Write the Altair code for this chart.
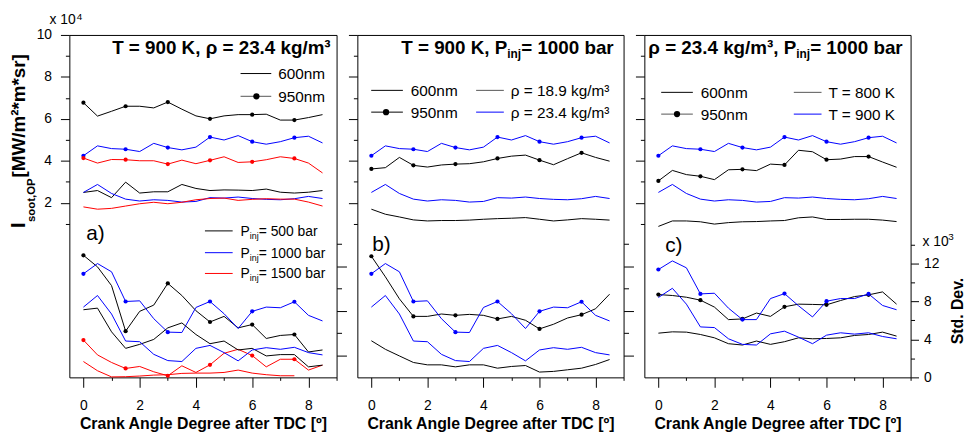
import altair as alt
import pandas as pd

FONT = "Liberation Sans"

# Crank angle positions (deg after TDC)
X = [0.0, 0.5, 1.0, 1.5, 2.0, 2.5, 3.0, 3.5, 4.0, 4.5, 5.0, 5.5, 6.0, 6.5, 7.0, 7.5, 8.0, 8.5]

# ---- Mean soot intensity (x 10^4) ----
BLUE_I950 = [4.24, 4.71, 4.58, 4.55, 4.44, 4.83, 4.63, 4.52, 4.65, 5.13, 4.99, 5.20, 4.91, 4.79, 4.91, 5.10, 5.17, 4.85]
BLUE_I600 = [2.49, 2.87, 2.44, 2.17, 2.08, 2.14, 2.11, 2.03, 2.06, 2.24, 2.22, 2.27, 2.20, 2.16, 2.14, 2.19, 2.30, 2.20]
A_I950_500 = [6.77, 6.13, 6.36, 6.60, 6.60, 6.52, 6.80, 6.46, 6.14, 6.00, 6.14, 6.20, 6.20, 6.22, 5.94, 5.94, 6.06, 6.20]
A_I950_1500 = [4.13, 3.89, 4.06, 4.05, 4.00, 4.00, 3.84, 4.03, 3.86, 4.02, 4.19, 3.92, 3.95, 4.05, 4.19, 4.11, 3.89, 3.42]
A_I600_500 = [2.49, 2.58, 2.24, 2.98, 2.46, 2.52, 2.52, 2.87, 2.68, 2.58, 2.61, 2.60, 2.58, 2.65, 2.50, 2.46, 2.50, 2.58]
A_I600_1500 = [1.80, 1.69, 1.73, 1.84, 1.95, 2.02, 1.95, 2.02, 2.14, 2.20, 2.22, 2.11, 2.16, 2.19, 2.17, 2.17, 2.03, 1.84]
B_I950_189 = [3.61, 3.67, 4.16, 3.78, 3.70, 3.80, 3.84, 3.86, 3.95, 4.11, 4.22, 4.27, 4.03, 3.81, 4.10, 4.38, 4.16, 3.98]
B_I600_189 = [1.69, 1.45, 1.32, 1.18, 1.13, 1.15, 1.15, 1.17, 1.21, 1.24, 1.26, 1.29, 1.21, 1.13, 1.18, 1.24, 1.21, 1.17]
C_I950_800 = [3.04, 3.54, 3.34, 3.26, 3.10, 3.57, 3.59, 3.53, 3.84, 3.80, 4.50, 4.43, 4.05, 4.08, 4.20, 4.20, 3.94, 3.69]
C_I600_800 = [0.87, 1.13, 1.13, 1.09, 0.98, 1.05, 1.09, 1.10, 1.13, 1.15, 1.28, 1.32, 1.20, 1.20, 1.21, 1.21, 1.17, 1.10]

# ---- Standard deviation (x 10^3) ----
AB_S950_BLUE = [10.92, 12.00, 11.13, 8.00, 8.07, 6.19, 4.77, 4.73, 7.37, 8.00, 6.71, 5.15, 6.96, 7.41, 7.34, 7.97, 6.54, 5.95]
AB_S600_BLUE = [7.41, 8.63, 6.68, 3.83, 3.76, 2.43, 1.77, 1.67, 3.06, 3.37, 2.61, 1.74, 2.89, 3.13, 2.96, 3.17, 2.61, 2.37]
A_S950_500 = [12.87, 11.65, 9.67, 4.87, 6.96, 7.62, 9.91, 8.63, 7.03, 5.84, 6.43, 5.22, 5.57, 4.10, 4.42, 4.52, 2.68, 2.89]
A_S950_1500 = [3.93, 2.37, 1.57, 0.94, 1.15, 0.59, 0.17, 1.22, 0.52, 1.32, 2.54, 2.96, 2.30, 1.11, 1.91, 1.91, 0.77, 1.29]
A_S600_500 = [7.13, 7.30, 4.80, 3.06, 3.48, 4.00, 5.22, 5.74, 4.52, 3.55, 3.83, 2.89, 3.06, 2.26, 2.40, 2.40, 1.11, 1.29]
A_S600_1500 = [1.67, 0.70, 0.05, 0.07, 0.14, 0.24, 0.28, 0.42, 0.45, 0.45, 0.52, 0.77, 0.45, 0.28, 0.17, 0.17, None, None]
B_S950_189 = [12.77, 10.60, 8.28, 6.43, 6.43, 6.68, 6.54, 6.64, 6.54, 6.16, 6.43, 6.02, 5.11, 5.60, 6.26, 6.61, 7.23, 8.77]
B_S600_189 = [3.86, 2.96, 2.26, 1.57, 1.32, 1.32, 1.11, 1.32, 1.32, 0.97, 1.15, 1.25, 0.56, 0.63, 0.80, 0.97, 1.36, 1.88]
C_S950_900 = [11.37, 12.28, 11.55, 8.80, 8.87, 7.30, 6.09, 6.09, 8.31, 8.83, 7.55, 6.37, 8.03, 8.31, 8.31, 8.80, 7.58, 7.13]
C_S600_900 = [8.42, 9.39, 7.72, 5.32, 5.25, 4.07, 3.48, 3.41, 4.59, 4.87, 4.24, 3.55, 4.45, 4.70, 4.56, 4.70, 4.31, 4.07]
C_S950_800 = [8.73, 8.63, 8.45, 8.14, 7.41, 6.09, 6.16, 6.78, 6.43, 7.44, 7.72, 7.69, 7.65, 8.10, 8.52, 8.70, 9.01, 7.72]
C_S600_800 = [4.66, 4.80, 4.77, 4.52, 4.17, 3.55, 3.41, 3.83, 3.48, 3.76, 4.17, 4.07, 4.10, 4.17, 4.42, 4.52, 4.77, 4.35]

BLACK, BLUE, RED = "#000000", "#0000ff", "#ff0000"

SERIES = [
    ("a", "int", "a1", BLACK, True, A_I950_500), ("a", "int", "a2", BLUE, True, BLUE_I950),
    ("a", "int", "a3", RED, True, A_I950_1500), ("a", "int", "a4", BLACK, False, A_I600_500),
    ("a", "int", "a5", BLUE, False, BLUE_I600), ("a", "int", "a6", RED, False, A_I600_1500),
    ("a", "std", "a7", BLACK, True, A_S950_500), ("a", "std", "a8", BLUE, True, AB_S950_BLUE),
    ("a", "std", "a9", RED, True, A_S950_1500), ("a", "std", "a10", BLACK, False, A_S600_500),
    ("a", "std", "a11", BLUE, False, AB_S600_BLUE), ("a", "std", "a12", RED, False, A_S600_1500),
    ("b", "int", "b1", BLACK, True, B_I950_189), ("b", "int", "b2", BLUE, True, BLUE_I950),
    ("b", "int", "b3", BLACK, False, B_I600_189), ("b", "int", "b4", BLUE, False, BLUE_I600),
    ("b", "std", "b5", BLACK, True, B_S950_189), ("b", "std", "b6", BLUE, True, AB_S950_BLUE),
    ("b", "std", "b7", BLACK, False, B_S600_189), ("b", "std", "b8", BLUE, False, AB_S600_BLUE),
    ("c", "int", "c1", BLACK, True, C_I950_800), ("c", "int", "c2", BLUE, True, BLUE_I950),
    ("c", "int", "c3", BLACK, False, C_I600_800), ("c", "int", "c4", BLUE, False, BLUE_I600),
    ("c", "std", "c5", BLACK, True, C_S950_800), ("c", "std", "c6", BLUE, True, C_S950_900),
    ("c", "std", "c7", BLACK, False, C_S600_800), ("c", "std", "c8", BLUE, False, C_S600_900),
]

rows = []
for p, k, sid, col, mk, vals in SERIES:
    for i, (xv, yv) in enumerate(zip(X, vals)):
        if yv is None:
            continue
        rows.append(dict(panel=p, kind=k, sid=sid, color=col, x=xv, y=yv, marked=bool(mk and i % 3 == 0)))
df = pd.DataFrame(rows)

H = 346

W_BOLD = {' ': 278, '=': 584, 'P': 667, 'b': 611, 'a': 556, 'r': 389, 'i': 278, 'n': 611, 'j': 278}
W_REG = {' ': 278, '=': 584, 'P': 667, 'b': 556, 'a': 556, 'r': 333, 'i': 222, 'n': 556, 'j': 222, 'x': 500}


def tw(s, size, bold=False):
    t = W_BOLD if bold else W_REG
    return sum(t.get(ch, 556) for ch in s) * size / 1000.0


def txt(x, y, s, size=14, bold=False, align="left", baseline="alphabetic", angle=0, color="black"):
    kw = dict(align=align, baseline=baseline, fontSize=size, font=FONT,
              fontWeight="bold" if bold else "normal", color=color)
    if angle:
        kw["angle"] = angle
    return alt.Chart(pd.DataFrame({"t": [s]})).mark_text(**kw).encode(
        x=alt.value(x), y=alt.value(y), text="t:N")


def seg(x1, x2, y, color):
    return alt.Chart(pd.DataFrame({"k": [0]})).mark_rule(color=color, strokeWidth=1).encode(
        x=alt.value(x1), x2=alt.value(x2), y=alt.value(y))


def dot(x, y, size=40):
    return alt.Chart(pd.DataFrame({"k": [0]})).mark_circle(color="black", size=size, opacity=1).encode(
        x=alt.value(x), y=alt.value(y))


def title_sub(right, base, main, sub, tail, size=19, subsize=12):
    x_tail = right
    x_sub = right - tw(tail, size, True)
    x_main = x_sub - tw(sub, subsize, True)
    return [txt(x_tail, base, tail, size, True, align="right"),
            txt(x_sub, base + 4, sub, subsize, True, align="right"),
            txt(x_main, base, main, size, True, align="right")]


def leg_pinj(x, y, tail):
    return [txt(x, y + 5, "P", 14),
            txt(x + tw("P", 14), y + 8, "inj", 9),
            txt(x + tw("P", 14) + tw("inj", 9), y + 5, tail, 14)]


XSC = alt.Scale(domain=[-0.5, 9.0], nice=False, zero=False)
YL_SC = alt.Scale(domain=[-6.33, 10.0], nice=False, zero=False)
YR_SC = alt.Scale(domain=[0.0, 36.1], nice=False, zero=False)

XAXIS = alt.Axis(title="Crank Angle Degree after TDC [º]", values=list(range(0, 10)),
                 labelExpr="datum.value % 2 == 0 ? datum.label : ''",
                 tickSize={"condition": {"test": "datum.value % 2 == 0", "value": 10}, "value": 3},
                 labelPadding=11, titlePadding=4, titleFontSize=16, titleFontWeight="bold",
                 labelFontSize=14, labelOverlap=False, labelFlush=False)


def left_axis(labels):
    return alt.Axis(orient="left", values=list(range(1, 11)), labels=labels,
                    labelExpr="datum.value % 2 == 0 ? datum.label : ''",
                    tickSize={"condition": {"test": "datum.value % 2 == 0", "value": 9}, "value": 4},
                    labelPadding=9, title=None, labelFontSize=14, labelOverlap=False, labelFlush=False)


RIGHT_AB = alt.Axis(orient="right", values=[2.3, 4.7, 7.0, 9.4, 11.7, 14.1], labels=False, title=None,
                    tickSize={"condition": {"test": "datum.value < 3 || (datum.value > 6.5 && datum.value < 7.5) || (datum.value > 11 && datum.value < 12)", "value": 10},
                              "value": 5})
RIGHT_C = alt.Axis(orient="right", values=list(range(0, 16, 2)), title=None,
                   labelExpr="datum.value % 4 == 0 ? datum.label : ''",
                   tickSize={"condition": {"test": "datum.value % 4 == 0", "value": 8}, "value": 4},
                   labelPadding=5, labelFontSize=14, labelOverlap=False, labelFlush=False)


def panel(pid, width, left_labels, raxis, annots):
    d = df[df.panel == pid]
    xenc = alt.X("x:Q", scale=XSC, axis=XAXIS)

    def grp(data, yenc):
        base = alt.Chart(data)
        ln = base.mark_line(strokeWidth=1).encode(
            x=xenc, y=yenc, color=alt.Color("color:N", scale=None), detail="sid:N")
        pt = base.transform_filter("datum.marked").mark_circle(size=18, opacity=1).encode(
            x=xenc, y=yenc, color=alt.Color("color:N", scale=None))
        return alt.layer(ln, pt)

    gl = grp(d[d.kind == "int"], alt.Y("y:Q", scale=YL_SC, axis=left_axis(left_labels)))
    gr = grp(d[d.kind == "std"], alt.Y("y:Q", scale=YR_SC, axis=raxis))
    return alt.layer(gl, gr, *annots).resolve_scale(y="independent").properties(width=width, height=H)


GRAY = "#555555"
LS = 15.5  # legend font size

annot_a = [
    txt(-20, -11, "x 10", 14), txt(7.5, -15, "4", 10),
    txt(-45, 195, "I", 20, True, angle=270),
    txt(-35, 189, "soot,OP", 11.5, True, angle=270),
    txt(-45, 144, "[MW/m²*m*sr]", 19, True, angle=270),
    txt(264, 19, "T = 900 K, ρ = 23.4 kg/m³", 19, True, align="right"),
    seg(173, 204, 39, BLACK), txt(211, 44.5, "600nm", LS),
    seg(173, 204, 62, GRAY), dot(189, 62), txt(211, 67.5, "950nm", LS),
    txt(17, 207, "a)", 21),
    seg(137, 165, 198, BLACK), seg(137, 165, 220, BLUE), seg(137, 165, 241, RED),
] + leg_pinj(173, 198, "= 500 bar") + leg_pinj(173, 220, "= 1000 bar") + leg_pinj(173, 241, "= 1500 bar")

annot_b = title_sub(259, 19, "T = 900 K, P", "inj", "= 1000 bar") + [
    seg(14, 46, 56, BLACK), txt(54, 61.5, "600nm", LS),
    seg(14, 46, 78, BLACK), dot(29, 78), txt(54, 83.5, "950nm", LS),
    seg(120, 148, 56, GRAY), txt(155, 61.5, "ρ = 18.9 kg/m³", LS),
    seg(120, 148, 78, BLUE), txt(155, 83.5, "ρ = 23.4 kg/m³", LS),
    txt(15, 218, "b)", 21),
]

annot_c = title_sub(261, 19, "ρ = 23.4 kg/m³, P", "inj", "= 1000 bar") + [
    seg(17, 49, 58, BLACK), txt(57, 63.5, "600nm", LS),
    seg(17, 49, 80, GRAY), dot(33, 80), txt(57, 85.5, "950nm", LS),
    seg(151, 179, 58, GRAY), txt(186, 63.5, "T = 800 K", LS),
    seg(151, 179, 80, BLUE), txt(186, 85.5, "T = 900 K", LS),
    txt(21, 219, "c)", 21),
    txt(281, 213, "x 10", 14), txt(307, 207, "3", 10),
    txt(322, 279, "Std. Dev.", 16, True, align="center", angle=270),
]

pa = panel("a", 270, True, RIGHT_AB, annot_a)
pb = panel("b", 269, False, RIGHT_AB, annot_b)
pc = panel("c", 269, False, RIGHT_C, annot_c)

chart = alt.hconcat(pa, pb, pc, spacing=0).properties(
    padding={"left": 0, "top": 1, "right": 0, "bottom": 0}
).configure_view(stroke="black", strokeWidth=1).configure_axis(
    labelFont=FONT, titleFont=FONT, labelColor="black", titleColor="black",
    tickColor="black", tickWidth=1, domain=False, grid=False
)

chart.save("out.html", embed_options={"renderer": "svg", "actions": False})
